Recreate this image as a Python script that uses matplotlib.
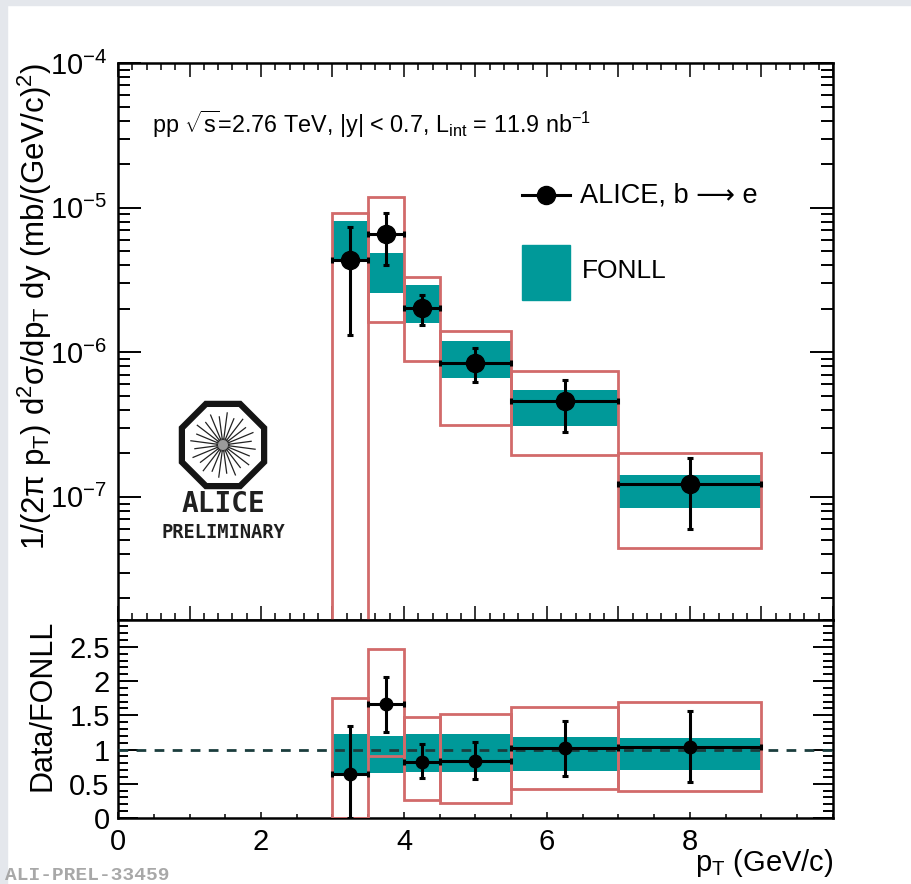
import numpy as np
import matplotlib
matplotlib.use("Agg")
import matplotlib.pyplot as plt
from matplotlib.patches import RegularPolygon, Circle, Rectangle
from matplotlib.ticker import FixedLocator, MultipleLocator, FuncFormatter, NullFormatter

plt.rcParams['font.family'] = ['Liberation Sans', 'DejaVu Sans']
plt.rcParams['mathtext.fontset'] = 'custom'
plt.rcParams['mathtext.rm'] = 'Liberation Sans'
plt.rcParams['mathtext.it'] = 'Liberation Sans:italic'
plt.rcParams['mathtext.bf'] = 'Liberation Sans:bold'

# pT binning and bin centres (GeV/c)
bin_edges = [3.0, 3.5, 4.0, 4.5, 5.5, 7.0, 9.0]
pt_centres = [3.25, 3.75, 4.25, 5.0, 6.25, 8.0]

# b -> e cross section, mb/(GeV/c)^2
sigma = [4.33e-6, 6.58e-6, 2.03e-6, 8.40e-7, 4.62e-7, 1.22e-7]
stat_hi = [7.36e-6, 9.14e-6, 2.50e-6, 1.07e-6, 6.44e-7, 1.86e-7]
stat_lo = [1.31e-6, 4.03e-6, 1.54e-6, 6.18e-7, 2.79e-7, 6.02e-8]
sys_hi = [9.14e-6, 1.19e-5, 3.31e-6, 1.40e-6, 7.40e-7, 2.02e-7]
sys_lo = [1.0e-9, 1.62e-6, 8.71e-7, 3.15e-7, 1.94e-7, 4.43e-8]
fonll_hi = [8.13e-6, 4.82e-6, 2.93e-6, 1.20e-6, 5.47e-7, 1.42e-7]
fonll_lo = [4.40e-6, 2.58e-6, 1.60e-6, 6.65e-7, 3.10e-7, 8.39e-8]

# Data/FONLL ratio
ratio = [0.642, 1.66, 0.82, 0.84, 1.02, 1.04]
r_stat_hi = [1.34, 2.06, 1.08, 1.11, 1.42, 1.56]
r_stat_lo = [0.0, 1.26, 0.58, 0.57, 0.62, 0.52]
r_sys_hi = [1.76, 2.47, 1.48, 1.52, 1.62, 1.69]
r_sys_lo = [0.0, 0.90, 0.26, 0.22, 0.43, 0.39]
r_fonll_hi = [1.22, 1.20, 1.22, 1.22, 1.19, 1.17]
r_fonll_lo = [0.657, 0.66, 0.67, 0.67, 0.68, 0.70]

ratio_ticks = [0, 0.5, 1, 1.5, 2, 2.5]
pt_ticks = [0, 2, 4, 6, 8]

TEAL = '#009999'
RED = '#d26a6a'

edges = np.array(bin_edges)
left = edges[:-1]
widths = np.diff(edges)
half = widths / 2.0

W, H = 912, 884
fig = plt.figure(figsize=(W / 100, H / 100), dpi=100)
fig.patch.set_facecolor('white')
# light frame strips of the canvas
fig.patches.append(Rectangle((0, 0), 7 / W, 1, transform=fig.transFigure,
                             color='#e4e7ec', zorder=-10))
fig.patches.append(Rectangle((0, 1 - 5 / H), 1, 5 / H, transform=fig.transFigure,
                             color='#e4e7ec', zorder=-10))

ax = fig.add_axes([118 / W, 1 - 619.5 / H, 715 / W, 556.5 / H])
ax2 = fig.add_axes([118 / W, 1 - 818 / H, 715 / W, 198.5 / H])

# ---------------- spectrum panel ----------------
s = np.array(sigma)
ax.bar(left, np.array(fonll_hi) - np.array(fonll_lo), bottom=fonll_lo, width=widths,
       align='edge', color=TEAL, linewidth=0, zorder=2)
ax.bar(left, np.array(sys_hi) - np.array(sys_lo), bottom=sys_lo, width=widths,
       align='edge', fill=False, edgecolor=RED, linewidth=2.0, zorder=3)
ax.errorbar(pt_centres, s, xerr=half,
            yerr=[s - np.array(stat_lo), np.array(stat_hi) - s],
            fmt='o', color='black', ms=13, elinewidth=2.2, capsize=2.5,
            capthick=2.2, zorder=5)

ax.set_yscale('log')
ax.set_xlim(0, 10)
ax.set_ylim(1.42e-8, 1e-4)

ax.xaxis.set_major_locator(MultipleLocator(1))
ax.xaxis.set_minor_locator(MultipleLocator(0.2))
ax.yaxis.set_major_locator(FixedLocator([1e-7, 1e-6, 1e-5, 1e-4]))
ax.yaxis.set_minor_locator(FixedLocator([m * 10.0 ** e for e in range(-8, -4)
                                         for m in range(2, 10)]))
ax.yaxis.set_major_formatter(FuncFormatter(
    lambda v, p: r'$\mathregular{10^{%d}}$' % int(round(np.log10(v)))))
ax.yaxis.set_minor_formatter(NullFormatter())
ax.tick_params(axis='x', which='both', direction='in', top=True, bottom=True,
               labelbottom=False)
ax.tick_params(axis='x', which='major', length=10, width=1.1)
ax.tick_params(axis='x', which='minor', length=5, width=1.1)
ax.tick_params(axis='y', which='both', direction='in', left=True, right=True,
               labelsize=21, pad=8)
ax.tick_params(axis='y', which='major', length=16.5, width=1.4)
ax.tick_params(axis='y', which='minor', length=8.5, width=1.4)
for sp in ax.spines.values():
    sp.set_linewidth(1.8)

ax.set_ylabel(r'1/(2π p$_{\mathrm{T}}$) d$^{2}$σ/dp$_{\mathrm{T}}$ dy (mb/(GeV/c)$^{2}$)',
              fontsize=22.5, ha='right', va='center')
ax.yaxis.set_label_coords(-0.116, 1.0)

ax.text((152 - 118) / 715, (619.5 - 133) / 556.5,
        r'pp $\sqrt{\mathrm{s}}$=2.76 TeV, |y| < 0.7, L$_{\mathrm{int}}$ = 11.9 nb$^{\mathrm{-1}}$',
        transform=ax.transAxes, fontsize=16.8, ha='left', va='baseline')

# legend drawn by hand
ly = (619.5 - 195) / 556.5
ax.plot([(522 - 118) / 715, (570 - 118) / 715], [ly, ly], color='black', lw=2.2,
        transform=ax.transAxes, clip_on=False, zorder=6)
ax.plot([(546 - 118) / 715], [ly], 'o', color='black', ms=13,
        transform=ax.transAxes, clip_on=False, zorder=6)
ax.text((580 - 118) / 715, ly, 'ALICE, b ⟶ e', transform=ax.transAxes,
        fontsize=19.5, ha='left', va='center', family=['Liberation Sans', 'DejaVu Sans'])
ax.add_patch(Rectangle(((522 - 118) / 715, (619.5 - 300) / 556.5), 48 / 715, 55 / 556.5,
                       transform=ax.transAxes, color=TEAL, zorder=6))
ax.text((582 - 118) / 715, (619.5 - 271) / 556.5, 'FONLL', transform=ax.transAxes,
        fontsize=19, ha='left', va='center')

# ---------------- ratio panel ----------------
r = np.array(ratio)
ax2.bar(left, np.array(r_fonll_hi) - np.array(r_fonll_lo), bottom=r_fonll_lo, width=widths,
        align='edge', color=TEAL, linewidth=0, zorder=2)
ax2.axhline(1.0, color='#1b3d3d', lw=2.0, ls=(0, (3.5, 3)), zorder=3)
ax2.bar(left, np.array(r_sys_hi) - np.array(r_sys_lo), bottom=r_sys_lo, width=widths,
        align='edge', fill=False, edgecolor=RED, linewidth=2.0, zorder=4)
ax2.errorbar(pt_centres, r, xerr=half,
             yerr=[r - np.array(r_stat_lo), np.array(r_stat_hi) - r],
             fmt='o', color='black', ms=9, elinewidth=2.2, capsize=2.5,
             capthick=2.2, zorder=5)

ax2.set_xlim(0, 10)
ax2.set_ylim(0, 2.9)
ax2.set_xticks(pt_ticks)
ax2.set_xticklabels([f'{v:g}' for v in pt_ticks])
ax2.xaxis.set_minor_locator(MultipleLocator(0.5))
ax2.set_yticks(ratio_ticks)
ax2.set_yticklabels([f'{v:g}' for v in ratio_ticks])
ax2.yaxis.set_minor_locator(MultipleLocator(0.1))
ax2.tick_params(axis='x', which='both', direction='in', top=False, bottom=True,
                labelsize=21, pad=7)
ax2.tick_params(axis='x', which='major', length=4.5, width=1.1)
ax2.tick_params(axis='x', which='minor', length=3, width=1.1)
ax2.tick_params(axis='y', which='both', direction='in', left=True, right=True,
                labelsize=21, pad=6)
ax2.tick_params(axis='y', which='major', length=14.5, width=1.4)
ax2.tick_params(axis='y', which='minor', length=7.2, width=1.4)
for sp in ax2.spines.values():
    sp.set_linewidth(1.8)

ax2.set_ylabel('Data/FONLL', fontsize=22, ha='right', va='center')
ax2.yaxis.set_label_coords(-0.106, 1.0)
ax2.set_xlabel(r'p$_{\mathrm{T}}$ (GeV/c)', fontsize=21, ha='right', va='center')
ax2.xaxis.set_label_coords(1.0, -0.225)

# ---------------- ALICE logo ----------------
lax = fig.add_axes([160 / W, 1 - 548 / H, 132 / W, 150 / H])
lax.set_xlim(160, 292)
lax.set_ylim(548, 398)
lax.axis('off')
cx, cy = 223, 445
lax.add_patch(RegularPolygon((cx, cy), numVertices=8, radius=44.5,
                             orientation=np.pi / 8, fill=False,
                             edgecolor='#151515', lw=4.5))
lax.add_patch(Circle((cx, cy), 7, color='#9a9a9a', lw=0))
for k, a in enumerate(np.arange(0, 360, 15)):
    t = np.deg2rad(a + 7.5)
    r0 = 5
    r1 = 33 if k % 2 == 0 else 29
    lax.plot([cx + r0 * np.cos(t), cx + r1 * np.cos(t)],
             [cy + r0 * np.sin(t), cy + r1 * np.sin(t)],
             color='#222222', lw=0.9, solid_capstyle='butt')
lax.text(cx, 504, 'ALICE', fontsize=20, fontweight='bold', family='DejaVu Sans Mono',
         ha='center', va='center', color='#202020')
lax.text(cx, 533, 'PRELIMINARY', fontsize=13.5, fontweight='bold',
         family='DejaVu Sans Mono', ha='center', va='center', color='#202020')

fig.text(5 / W, 4 / H, 'ALI-PREL-33459', fontsize=14, fontweight='bold',
         family='Liberation Mono', color='#a8a8a8', ha='left', va='baseline')

fig.savefig('out.png', dpi=100)
